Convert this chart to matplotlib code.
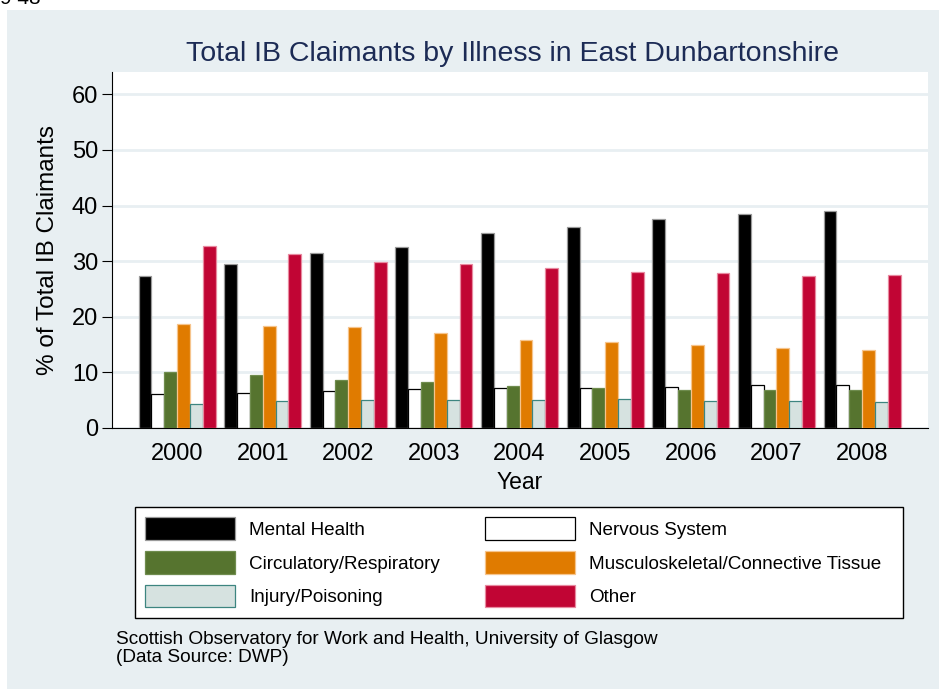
import numpy as np
import matplotlib
matplotlib.use('Agg')
import matplotlib.pyplot as plt
from matplotlib.patches import Rectangle

plt.rcParams['font.family'] = ['Liberation Sans', 'DejaVu Sans']

# data
years = ['2000', '2001', '2002', '2003', '2004', '2005', '2006', '2007', '2008']
mental = [27.4, 29.4, 31.4, 32.6, 35.1, 36.2, 37.6, 38.4, 39.0]
nervous = [6.2, 6.35, 6.7, 7.05, 7.25, 7.25, 7.4, 7.65, 7.8]
circulatory = [10.1, 9.5, 8.6, 8.2, 7.55, 7.2, 6.8, 6.8, 6.8]
musculo = [18.7, 18.4, 18.1, 17.1, 15.9, 15.5, 15.0, 14.4, 14.0]
injury = [4.4, 4.8, 5.0, 5.1, 5.0, 5.15, 4.9, 4.9, 4.7]
other = [32.7, 31.3, 29.9, 29.5, 28.8, 28.0, 27.9, 27.4, 27.5]

series = [mental, nervous, circulatory, musculo, injury, other]
names = ['Mental Health', 'Nervous System', 'Circulatory/Respiratory',
         'Musculoskeletal/Connective Tissue', 'Injury/Poisoning', 'Other']
fills = ['#000000', '#ffffff', '#56742f', '#e07b00', '#d6e2e0', '#c10534']
edges = ['#9a9a9a', '#000000', '#6f8c4e', '#f6c48c', '#3d8580', '#e88aa0']

W, H = 939, 689
fig = plt.figure(figsize=(W / 100, H / 100), dpi=100, facecolor='white')

# light panel behind everything
fig.patches.append(Rectangle((7 / W, 0), 1 - 7 / W, (H - 10) / H,
                             transform=fig.transFigure, facecolor='#e8eff2',
                             edgecolor='none', zorder=-5))
# legend box drawn by hand so the columns can sit where they do in the original
fig.patches.append(Rectangle((135 / W, 1 - 618 / H), 768 / W, 111 / H,
                             transform=fig.transFigure, facecolor='white',
                             edgecolor='black', linewidth=1.0, zorder=-4))
# clipped text at the very top-left
fig.text(0.0, 1 - 4 / H, '9 48', fontsize=15, va='baseline', ha='left')

ax = fig.add_axes([112 / W, 1 - 428 / H, (928 - 112) / W, (428 - 72) / H])
ax.set_facecolor('white')

x = np.arange(len(years))
bw = 0.15
handles = []
for i, vals in enumerate(series):
    b = ax.bar(x + (i - 2.5) * bw, vals, width=bw, color=fills[i],
               edgecolor=edges[i], linewidth=0.9, label=names[i], zorder=3)
    handles.append(b)

ax.set_xlim(-0.76, 8.77)
ax.set_ylim(0, 64)
ax.set_yticks(np.arange(0, 61, 10))
ax.set_xticks(x)
ax.set_xticklabels(years)
ax.yaxis.grid(True, color='#e8eff2', linewidth=2, zorder=0)
ax.set_axisbelow(True)

for s in ['top', 'right']:
    ax.spines[s].set_visible(False)
ax.spines['left'].set_color('black')
ax.spines['bottom'].set_color('black')

ax.tick_params(axis='y', labelsize=17, length=7, pad=3, width=0.8)
ax.tick_params(axis='x', labelsize=17, length=0, pad=11)

ax.set_ylabel('% of Total IB Claimants', fontsize=17.5, labelpad=9)
ax.set_xlabel('Year', fontsize=16.5, labelpad=4)
ax.set_title('Total IB Claimants by Illness in East Dunbartonshire',
             fontsize=20.5, color='#1c2b55', pad=8, x=(513 - 112) / 816)

order = [0, 2, 4, 1, 3, 5]
leg = fig.legend([handles[k] for k in order], [names[k] for k in order],
                 ncol=2, loc='upper left', borderaxespad=0,
                 bbox_to_anchor=(135 / W, 1 - 507 / H),
                 fontsize=13.6, handlelength=4.76, handleheight=1.45,
                 handletextpad=0.75, labelspacing=0.6, borderpad=0.55,
                 columnspacing=2.38, frameon=False)

fig.text(116 / W, 1 - 640 / H,
         'Scottish Observatory for Work and Health, University of Glasgow',
         fontsize=13.7, va='center', ha='left')
fig.text(116 / W, 1 - 657 / H, '(Data Source: DWP)',
         fontsize=13.7, va='center', ha='left')

fig.savefig('out.png', dpi=100, facecolor=fig.get_facecolor())
